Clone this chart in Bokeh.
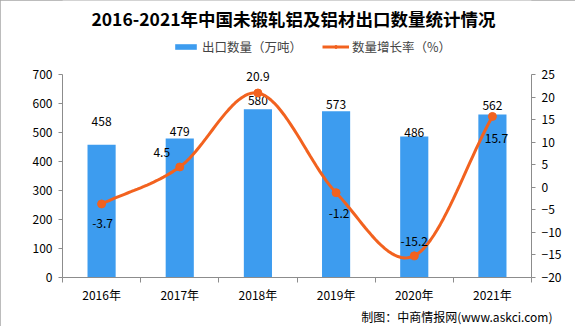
from bokeh.plotting import figure
from bokeh.models import (Range1d, LinearAxis, FixedTicker, Legend, LegendItem, Title, Label)
from bokeh.embed import file_html
from bokeh.resources import INLINE
from bokeh.core.properties import value

# ---- data ----
years = ["2016年", "2017年", "2018年", "2019年", "2020年", "2021年"]
export_qty = [458, 479, 580, 573, 486, 562]          # 万吨
growth = [-3.7, 4.5, 20.9, -1.2, -15.2, 15.7]          # %
left_ticks = [0, 100, 200, 300, 400, 500, 600, 700]
right_ticks = [-20, -15, -10, -5, 0, 5, 10, 15, 20, 25]
title_text = "2016-2021年中国未锻轧铝及铝材出口数量统计情况"
bar_name = "出口数量（万吨）"
line_name = "数量增长率（%）"
source_text = "制图：中商情报网(www.askci.com)"

# ---- style / layout ----
BAR = "#3D9CEF"
LINE = "#F2621F"
AXIS = "#8C8C8C"
FONT = "Noto Sans CJK SC"
bar_label_dy = [-23, -7, -9, -7, -4, -9]
line_label_dx = [1, -18, 0, 3, 0, 4]
line_label_dy = [20, -14, -16, 21, -14, 22]
FRAME_H = 277      # frame spans canvas top to the x axis
AXIS_H = 203       # pixel height of the value axes inside the frame

n = len(years)
xc = [i + 0.5 for i in range(n)]
lmin, lmax = left_ticks[0], left_ticks[-1]
rmin, rmax = right_ticks[0], right_ticks[-1]

p = figure(width=575, height=326, output_backend="svg", toolbar_location=None,
           x_range=Range1d(0, n),
           y_range=Range1d(lmin, lmin + (lmax - lmin) * FRAME_H / AXIS_H),
           min_border_left=62, min_border_right=44, min_border_top=0, min_border_bottom=49,
           x_axis_type=None, y_axis_type=None)
p.title.visible = False
p.outline_line_color = None
p.xgrid.visible = False
p.ygrid.visible = False
p.background_fill_color = "white"
p.border_fill_color = "white"
p.styles = {"outline": "1px solid #A6A6A6", "outline-offset": "-1px"}
p.extra_y_ranges = {"pct": Range1d(rmin, rmin + (rmax - rmin) * FRAME_H / AXIS_H)}

# axes
xaxis = LinearAxis(ticker=FixedTicker(ticks=xc, minor_ticks=list(range(n + 1))),
                   major_label_overrides={x: y for x, y in zip(xc, years)})
xaxis.major_tick_line_color = None
xaxis.minor_tick_in = 0
xaxis.minor_tick_out = 5
xaxis.minor_tick_line_color = AXIS
xaxis.axis_line_color = AXIS
xaxis.major_label_text_font = FONT
xaxis.major_label_text_font_size = "12px"
xaxis.major_label_text_color = "black"
xaxis.major_label_standoff = 2
p.add_layout(xaxis, "below")

yl = LinearAxis(ticker=FixedTicker(ticks=left_ticks), bounds=(lmin, lmax))
yl.axis_line_color = AXIS
yl.major_tick_line_color = AXIS
yl.major_tick_in = 0
yl.major_tick_out = 4
yl.minor_tick_line_color = None
yl.major_label_text_font = FONT
yl.major_label_text_font_size = "12px"
yl.major_label_text_color = "black"
yl.major_label_standoff = 6
p.add_layout(yl, "left")

yr = LinearAxis(y_range_name="pct", ticker=FixedTicker(ticks=right_ticks), bounds=(rmin, rmax))
yr.axis_line_color = AXIS
yr.major_tick_line_color = AXIS
yr.major_tick_in = 0
yr.major_tick_out = 4
yr.minor_tick_line_color = None
yr.major_label_text_font = FONT
yr.major_label_text_font_size = "12px"
yr.major_label_text_color = "black"
yr.major_label_standoff = 6
p.add_layout(yr, "right")

# bars
bars = p.vbar(x=xc, top=export_qty, width=0.36, color=BAR, line_color=None)
p.text(x=xc, y=export_qty, text=[str(v) for v in export_qty],
       y_offset=bar_label_dy, text_align="center", text_baseline="middle",
       text_font=value(FONT), text_font_size="12px", text_color="black")

# smooth line (Catmull-Rom drawing through the data points)
def catmull(xs, ys, steps=24):
    px, py = [], []
    m = len(xs)
    for i in range(m - 1):
        x0, y0 = (xs[i - 1], ys[i - 1]) if i > 0 else (2 * xs[i] - xs[i + 1], 2 * ys[i] - ys[i + 1])
        x1, y1 = xs[i], ys[i]
        x2, y2 = xs[i + 1], ys[i + 1]
        x3, y3 = (xs[i + 2], ys[i + 2]) if i + 2 < m else (2 * x2 - x1, 2 * y2 - y1)
        for s in range(steps):
            t = s / steps
            t2, t3 = t * t, t * t * t
            px.append(0.5 * (2 * x1 + (-x0 + x2) * t + (2 * x0 - 5 * x1 + 4 * x2 - x3) * t2 + (-x0 + 3 * x1 - 3 * x2 + x3) * t3))
            py.append(0.5 * (2 * y1 + (-y0 + y2) * t + (2 * y0 - 5 * y1 + 4 * y2 - y3) * t2 + (-y0 + 3 * y1 - 3 * y2 + y3) * t3))
    px.append(xs[-1]); py.append(ys[-1])
    return px, py

cx, cy = catmull(xc, growth)
ln = p.line(cx, cy, y_range_name="pct", line_color=LINE, line_width=3)
dots = p.scatter(xc, growth, y_range_name="pct", size=8, color=LINE)
p.text(x=xc, y=growth, y_range_name="pct", text=[f"{v}" for v in growth],
       x_offset=line_label_dx, y_offset=line_label_dy,
       text_align="center", text_baseline="middle",
       text_font=value(FONT), text_font_size="12px", text_color="black")

# legend (inside the tall frame, above the value axes)
legend = Legend(items=[LegendItem(label=bar_name, renderers=[bars]),
                       LegendItem(label=line_name, renderers=[ln, dots])],
                orientation="horizontal", location=(110, 221),
                glyph_width=27, glyph_height=7, label_standoff=3, spacing=20,
                padding=0, margin=0, border_line_color=None, background_fill_alpha=0,
                label_text_font=FONT, label_text_font_size="12.5px", label_height=18)
p.add_layout(legend, "center")

# title
p.add_layout(Label(x=231, y=259, x_units="screen", y_units="screen", text=title_text,
                   text_align="center", text_baseline="middle",
                   text_font=FONT, text_font_style="bold", text_font_size="17.5px",
                   text_color="black"))

# source
p.add_layout(Title(text=source_text, align="right", text_font=FONT, text_font_style="normal",
                   text_font_size="12px", text_color="black", standoff=0, offset=-21), "below")

open("out.html", "w").write(file_html(p, INLINE))
